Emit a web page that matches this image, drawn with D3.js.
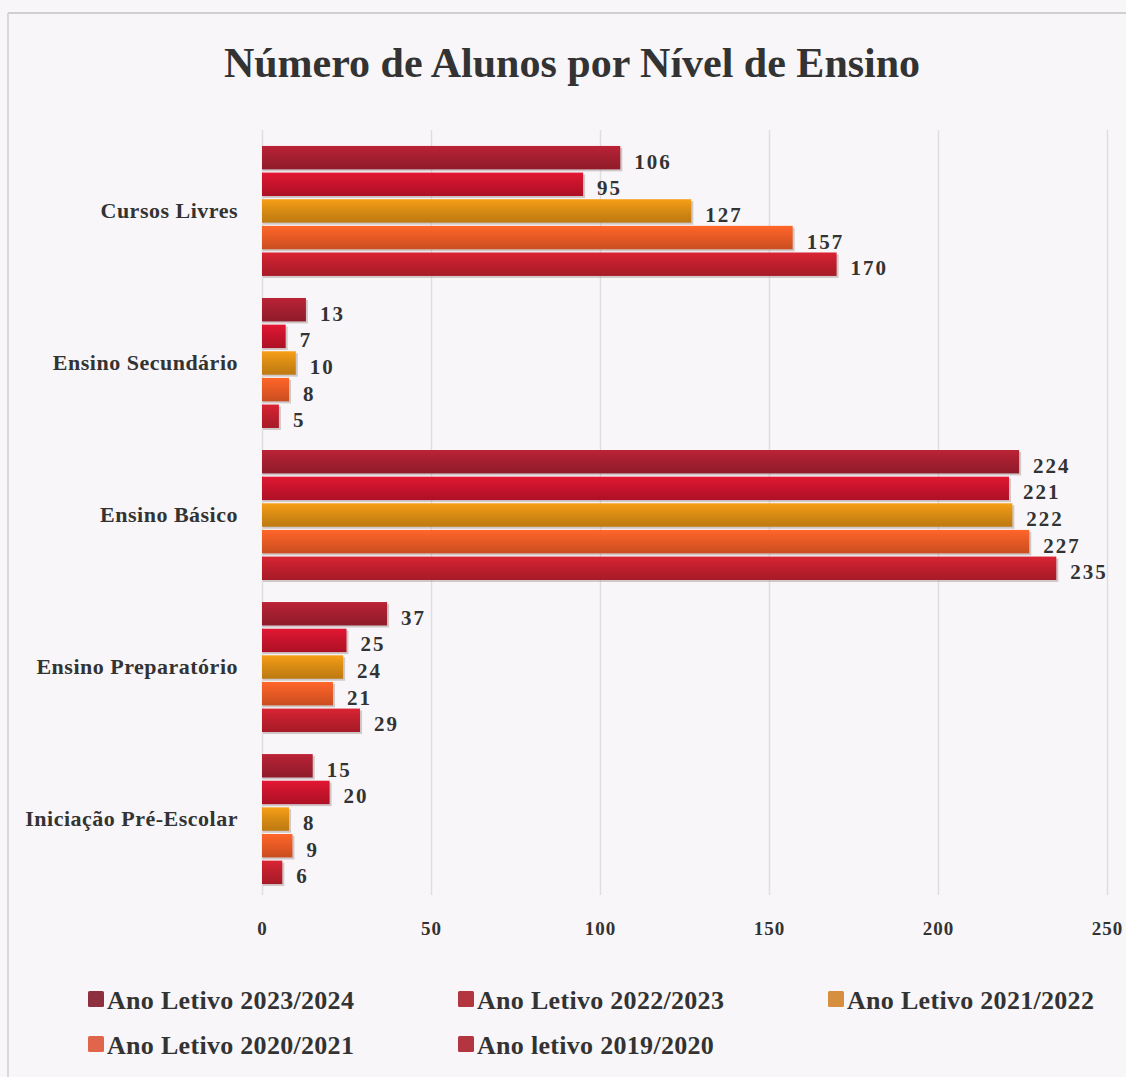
<!DOCTYPE html>
<html>
<head>
<meta charset="utf-8">
<script src="https://cdn.jsdelivr.net/npm/d3@7"></script>
<style>
  body { margin: 0; background: #f8f6f8; }
  svg { display: block; }
  text { font-family: "Liberation Serif", "DejaVu Serif", serif; font-weight: bold; fill: #333; }
</style>
</head>
<body>
<div class="chart"></div>
<script>

var categories = ["Cursos Livres", "Ensino Secundário", "Ensino Básico", "Ensino Preparatório", "Iniciação Pré-Escolar"];
var seriesNames = ["Ano Letivo 2023/2024", "Ano Letivo 2022/2023", "Ano Letivo 2021/2022", "Ano Letivo 2020/2021", "Ano letivo 2019/2020"];

// one array per school year, same order as categories
var y2023 = [106, 13, 224, 37, 15];
var y2022 = [95, 7, 221, 25, 20];
var y2021 = [127, 10, 222, 24, 8];
var y2020 = [157, 8, 227, 21, 9];
var y2019 = [170, 5, 235, 29, 6];
var seriesValues = [y2023, y2022, y2021, y2020, y2019];

var xTicks = [0, 50, 100, 150, 200, 250];

var barColors = ["#a51f30", "#c8142c", "#da8c14", "#e85a25", "#c01f2d"];
var legendColors = ["#8f3040", "#b3353f", "#d68f3f", "#e0654a", "#b3353f"];

var width = 1126, height = 1077;

var svg = d3.select(".chart").append("svg")
    .attr("width", width)
    .attr("height", height);

// frame of the scanned page
svg.append("line").attr("x1", 8).attr("x2", width).attr("y1", 13).attr("y2", 13)
  .attr("stroke", "#cfcfcf").attr("stroke-width", 2);
svg.append("line").attr("x1", 8).attr("x2", 8).attr("y1", 13).attr("y2", height)
  .attr("stroke", "#d8d8d8").attr("stroke-width", 2);

var x = d3.scaleLinear()
    .domain([0, 250])
    .range([262, 1107]);

var y = d3.scaleBand()
    .domain(categories)
    .range([135, 895])
    .paddingInner(0.145)
    .paddingOuter(0.072);

var ySub = d3.scaleBand()
    .domain(d3.range(seriesNames.length))
    .range([0, y.bandwidth()])
    .paddingInner(0.12);

// gradients for a bit of the 3d look
var defs = svg.append("defs");
barColors.forEach(function (c, i) {
  var g = defs.append("linearGradient")
      .attr("id", "grad" + i)
      .attr("x1", 0).attr("y1", 0).attr("x2", 0).attr("y2", 1);
  g.append("stop").attr("offset", "0%").attr("stop-color", d3.color(c).brighter(0.35));
  g.append("stop").attr("offset", "45%").attr("stop-color", c);
  g.append("stop").attr("offset", "100%").attr("stop-color", d3.color(c).darker(0.4));
});

// gridlines
svg.append("g")
    .attr("transform", "translate(0,895)")
    .call(d3.axisBottom(x).tickValues(xTicks).tickSize(-765).tickFormat(""))
    .call(function (g) {
      g.select(".domain").remove();
      g.selectAll("line").attr("stroke", "#e0dde0").attr("stroke-width", 1.5);
    });

// x axis labels
svg.append("g")
    .attr("transform", "translate(0,918)")
    .call(d3.axisBottom(x).tickValues(xTicks).tickSize(0).tickPadding(3))
    .call(function (g) {
      g.select(".domain").remove();
      g.selectAll("text")
        .style("font-family", "'Liberation Serif', serif")
        .style("font-weight", "bold")
        .style("font-size", "19px")
        .style("letter-spacing", "1px")
        .attr("fill", "#3a3a3a");
    });

// flatten for drawing
var rows = [];
categories.forEach(function (cat, ci) {
  seriesValues.forEach(function (vals, si) {
    rows.push({ cat: cat, s: si, v: vals[ci] });
  });
});

var groups = svg.append("g");

// shadow
groups.selectAll("rect.shadow")
    .data(rows)
  .enter().append("rect")
    .attr("class", "shadow")
    .attr("x", x(0) + 1)
    .attr("y", function (d) { return y(d.cat) + ySub(d.s) + 2; })
    .attr("width", function (d) { return x(d.v) - x(0) + 1; })
    .attr("height", ySub.bandwidth())
    .attr("fill", "#a09090")
    .attr("opacity", 0.45);

groups.selectAll("rect.bar")
    .data(rows)
  .enter().append("rect")
    .attr("class", "bar")
    .attr("x", x(0))
    .attr("y", function (d) { return y(d.cat) + ySub(d.s); })
    .attr("width", function (d) { return x(d.v) - x(0); })
    .attr("height", ySub.bandwidth())
    .attr("fill", function (d) { return "url(#grad" + d.s + ")"; });

// value labels
groups.selectAll("text.val")
    .data(rows)
  .enter().append("text")
    .attr("class", "val")
    .attr("x", function (d) { return x(d.v) + 14; })
    .attr("y", function (d) { return y(d.cat) + ySub(d.s) + ySub.bandwidth() / 2 + 11; })
    .style("font-size", "21px")
    .style("letter-spacing", "2px")
    .attr("fill", "#3a3a3a")
    .text(function (d) { return d.v; });

// category labels
svg.append("g").selectAll("text")
    .data(categories)
  .enter().append("text")
    .attr("x", 238)
    .attr("y", function (d) { return y(d) + y.bandwidth() / 2 + 7; })
    .attr("text-anchor", "end")
    .style("font-size", "22px")
    .style("letter-spacing", "0.5px")
    .attr("fill", "#333")
    .text(function (d) { return d; });

// title
svg.append("text")
    .attr("x", 572)
    .attr("y", 77)
    .attr("text-anchor", "middle")
    .style("font-size", "42px")
    .attr("fill", "#2a2a2a")
    .text("Número de Alunos por Nível de Ensino");

// legend
var legend = svg.append("g").selectAll("g")
    .data(seriesNames)
  .enter().append("g")
    .attr("transform", function (d, i) {
      return "translate(" + (88 + (i % 3) * 370) + "," + (1000 + Math.floor(i / 3) * 45) + ")";
    });

legend.append("rect")
    .attr("x", 0)
    .attr("y", -9)
    .attr("width", 16)
    .attr("height", 16)
    .attr("rx", 1.5)
    .attr("fill", function (d, i) { return legendColors[i]; });

legend.append("text")
    .attr("x", 19)
    .attr("y", 9)
    .style("font-size", "26px")
    .style("letter-spacing", "0.3px")
    .attr("fill", "#3a3a3a")
    .text(function (d) { return d; });

</script>
</body>
</html>
